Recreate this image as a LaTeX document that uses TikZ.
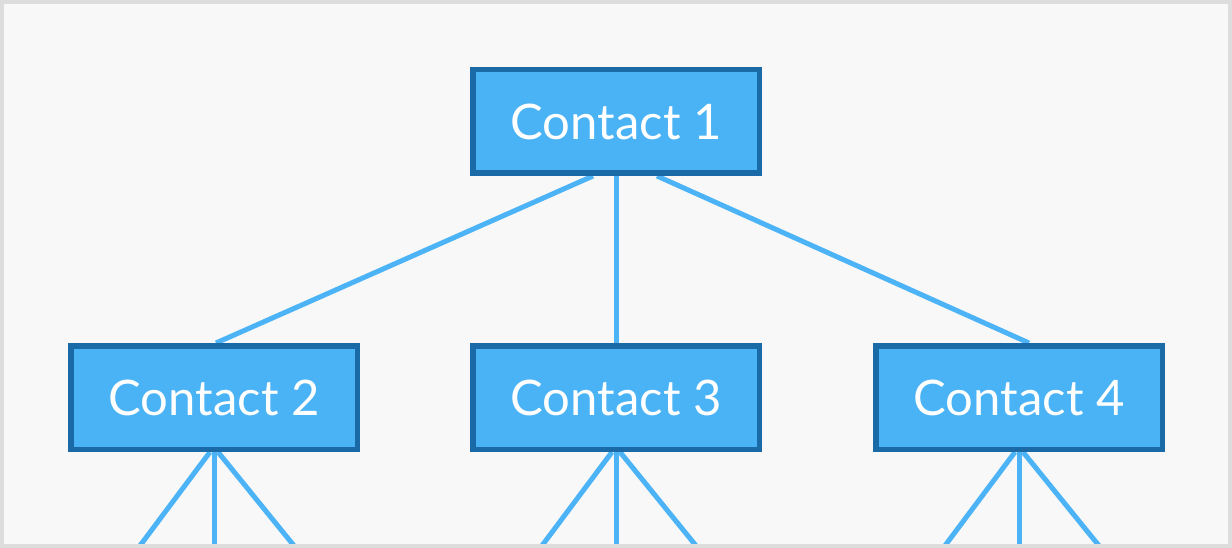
\documentclass[tikz,border=0pt]{standalone}
\usepackage{fontspec}
\setmainfont{Lato}
\usetikzlibrary{positioning,calc}

\definecolor{boxfill}{HTML}{4AB3F5}
\definecolor{boxline}{HTML}{1B6AA8}
\definecolor{edgeblue}{HTML}{4CB4F6}
\definecolor{pagebg}{HTML}{F8F8F8}
\definecolor{pageframe}{HTML}{DDDDDD}

\pgfdeclarelayer{bg}
\pgfdeclarelayer{edges}
\pgfsetlayers{bg,edges,main}

\tikzset{
  contact/.style={draw=boxline, fill=boxfill, line width=5.5pt, text=white,
    minimum width=286.5pt, minimum height=103.5pt, inner sep=0pt,
    font=\fontsize{49}{58}\selectfont},
  link/.style={edgeblue, line width=5pt}
}

\begin{document}
\begin{tikzpicture}[x=1pt,y=1pt]
 \useasboundingbox (0,0) rectangle (1232,-548);
 \begin{pgfonlayer}{bg}
  \fill[pagebg] (0,0) rectangle (1232,-548);
 \end{pgfonlayer}

 \node[contact] (root) at (616,-121.5) {Contact 1};

 \node[contact, below = 167pt of root] (a2) {Contact 3};
 \node[contact, left = 110pt of a2] (a1) {Contact 2};
 \node[contact, right = 111pt of a2] (a3) {Contact 4};

 % loose ends at the bottom edge
 \foreach \n in {a1,a2,a3} {
   \coordinate (\n l) at ($(\n.south)+(-75,-95)$);
   \coordinate (\n m) at ($(\n.south)+(0,-95)$);
   \coordinate (\n r) at ($(\n.south)+(81,-95)$);
 }

 \begin{pgfonlayer}{edges}
  \draw[link] ([xshift=-23pt]root.south) -- ([xshift=2pt]a1.north);
  \draw[link] (root.south) -- (a2.north);
  \draw[link] ([xshift=41pt]root.south) -- ([xshift=10pt]a3.north);

  \foreach \n in {a1,a2,a3} {
    \draw[link] ([xshift=-4pt]\n.south) -- (\n l);
    \draw[link] (\n.south) -- (\n m);
    \draw[link] ([xshift=4pt]\n.south) -- (\n r);
  }
 \end{pgfonlayer}

 \draw[pageframe, line width=4pt] (2,-2) rectangle (1230,-546);
\end{tikzpicture}
\end{document}
